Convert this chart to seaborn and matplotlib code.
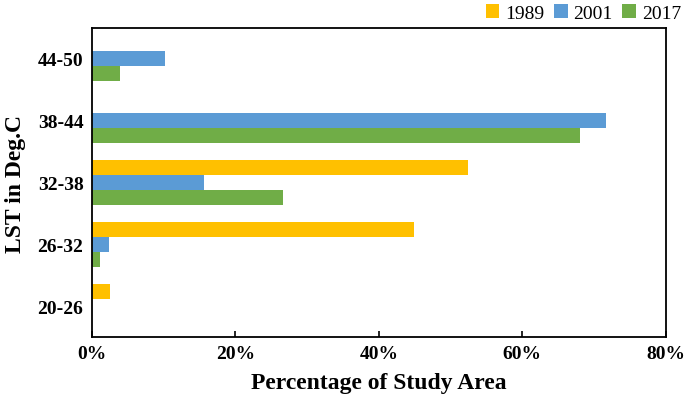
import pandas as pd
import numpy as np
import matplotlib.pyplot as plt
import seaborn as sns

# ============================================
# DATA
# ============================================
ranges = ["44-50", "38-44", "32-38", "26-32", "20-26"]
years = ["1989", "2001", "2017"]
pct_1989 = [0.0, 0.0, 52.5, 44.9, 2.5]
pct_2001 = [10.2, 71.6, 15.6, 2.4, 0.0]
pct_2017 = [4.0, 68.0, 26.6, 1.1, 0.0]
x_ticks = [0, 20, 40, 60, 80]
colors = ["#FFC000", "#5B9BD5", "#70AD47"]

df = pd.DataFrame({
    "range": ranges * 3,
    "year": np.repeat(years, len(ranges)),
    "pct": pct_1989 + pct_2001 + pct_2017,
})

# ============================================
# PLOT
# ============================================
sns.set_style("white")
plt.rcParams["font.family"] = ["Liberation Serif", "DejaVu Serif"]
plt.rcParams.update({"text.color": "black", "axes.labelcolor": "black",
                     "xtick.color": "black", "ytick.color": "black"})

fig, ax = plt.subplots(figsize=(6.85, 4.02), dpi=100)
fig.subplots_adjust(left=0.134, right=0.972, bottom=0.159, top=0.928)

sns.barplot(data=df, x="pct", y="range", hue="year", order=ranges,
            hue_order=years, palette=colors, saturation=1, orient="h",
            width=0.73, errorbar=None, linewidth=0, ax=ax)

ax.set_xlim(0, 80)
ax.set_xticks(x_ticks)
ax.set_xticklabels([f"{t}%" for t in x_ticks], fontsize=14, fontweight="bold")
ax.set_yticks(range(len(ranges)))
ax.set_yticklabels(ranges, fontsize=14, fontweight="bold")
ax.tick_params(axis="x", direction="in", length=4, width=1.2, pad=6, bottom=True)
ax.tick_params(axis="y", length=0, pad=6)

for s in ax.spines.values():
    s.set_visible(True)
    s.set_color("black")
    s.set_linewidth(1.3)

ax.set_xlabel("Percentage of Study Area", fontsize=17, fontweight="bold", labelpad=7)
ax.set_ylabel("LST in Deg.C", fontsize=17, fontweight="bold", labelpad=8)

ax.legend(loc="lower right", bbox_to_anchor=(1.04, 0.995), ncol=3, frameon=False,
          fontsize=14, handlelength=0.7, handleheight=0.7, handletextpad=0.3,
          columnspacing=0.5, borderaxespad=0.0)

plt.savefig("out.png", dpi=100)
plt.close()
